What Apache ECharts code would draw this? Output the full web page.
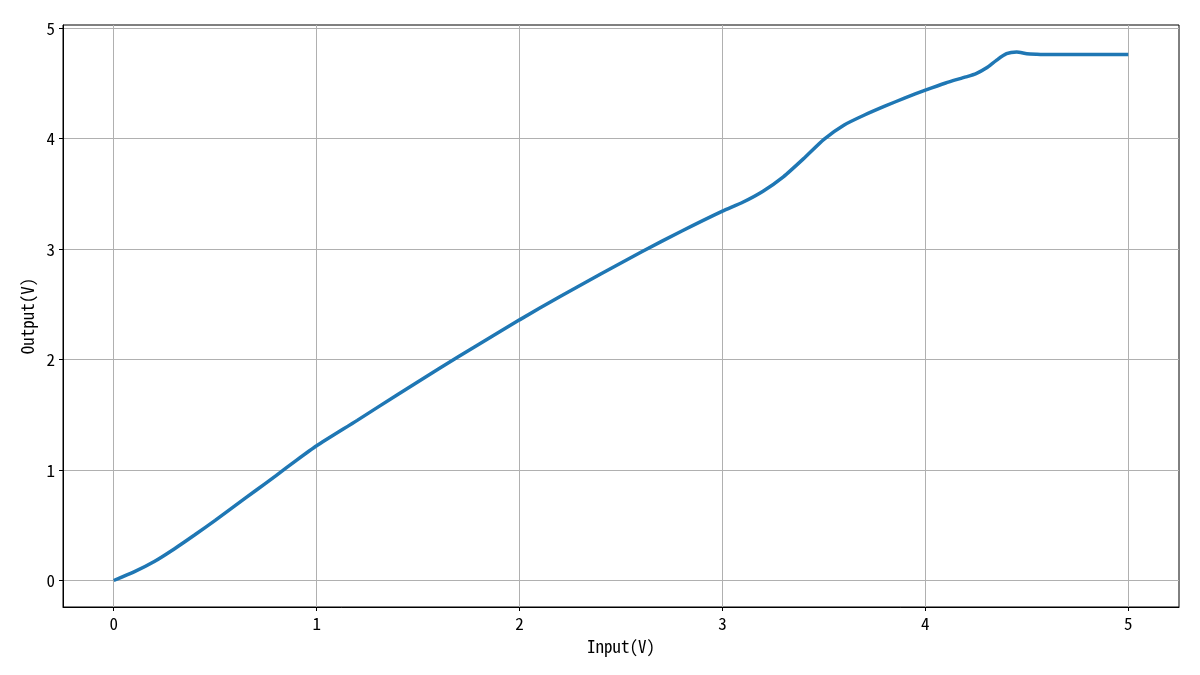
<!DOCTYPE html>
<html>
<head>
<meta charset="utf-8">
<script src="https://cdn.jsdelivr.net/npm/echarts@6/dist/echarts.min.js"></script>
<style>
html,body{margin:0;padding:0;background:#fff;}
#chart{width:1200px;height:675px;}
</style>
</head>
<body>
<div id="chart"></div>
<script>
const inputV = [0, 0.1, 0.2, 0.3, 0.4, 0.5, 0.6, 0.7, 0.8, 0.9, 1.0, 1.2, 1.4, 1.6, 1.8, 2.0, 2.2, 2.4, 2.6, 2.8, 3.0, 3.1, 3.2, 3.3, 3.4, 3.5, 3.6, 3.7, 3.8, 3.9, 4.0, 4.1, 4.2, 4.25, 4.3, 4.35, 4.4, 4.45, 4.5, 4.55, 4.6, 4.7, 4.8, 4.9, 5.0];
const outputV = [0, 0.078, 0.172, 0.288, 0.414, 0.545, 0.68, 0.815, 0.95, 1.088, 1.22, 1.45, 1.685, 1.915, 2.14, 2.36, 2.572, 2.775, 2.975, 3.165, 3.345, 3.425, 3.525, 3.655, 3.82, 3.995, 4.125, 4.215, 4.295, 4.37, 4.44, 4.505, 4.56, 4.59, 4.64, 4.71, 4.77, 4.785, 4.77, 4.765, 4.762, 4.762, 4.762, 4.762, 4.762];
const xTicks = [0, 1, 2, 3, 4, 5];
const yTicks = [0, 1, 2, 3, 4, 5];
const xName = 'Input(V)';
const yName = 'Output(V)';

const FONT = '"Noto Sans Mono CJK SC", "Noto Sans CJK SC", "DejaVu Sans Mono", sans-serif';
const chart = echarts.init(document.getElementById('chart'), null, {renderer: 'canvas'});
const data = inputV.map((x, i) => [x, outputV[i]]);
chart.setOption({
  animation: false,
  grid: {left: 63, right: 21, top: 25, bottom: 68, show: true, borderColor: '#000', borderWidth: 1, backgroundColor: 'transparent'},
  xAxis: {
    type: 'value', min: -0.25, max: 5.25,
    name: xName, nameLocation: 'middle', nameGap: 31,
    nameTextStyle: {fontFamily: FONT, fontSize: 17, color: '#000'},
    axisLine: {show: true, onZero: false, lineStyle: {color: '#000', width: 1}},
    axisTick: {show: true, length: 4, customValues: xTicks, lineStyle: {color: '#000'}},
    axisLabel: {customValues: xTicks, fontFamily: FONT, fontSize: 17, color: '#000', margin: 8},
    splitLine: {show: true, lineStyle: {color: '#b0b0b0', width: 1}}
  },
  yAxis: {
    type: 'value', min: -0.24, max: 5.03,
    name: yName, nameLocation: 'middle', nameGap: 24, nameRotate: 90,
    nameTextStyle: {fontFamily: FONT, fontSize: 17, color: '#000'},
    axisLine: {show: true, onZero: false, lineStyle: {color: '#000', width: 1}},
    axisTick: {show: true, length: 4, customValues: yTicks, lineStyle: {color: '#000'}},
    axisLabel: {customValues: yTicks, fontFamily: FONT, fontSize: 17, color: '#000', margin: 8},
    splitLine: {show: true, lineStyle: {color: '#b0b0b0', width: 1}}
  },
  series: [{
    type: 'line', data: data, showSymbol: false, smooth: 0.2,
    lineStyle: {color: '#1f77b4', width: 3.5},
    itemStyle: {color: '#1f77b4'}
  }]
});
</script>
</body>
</html>
